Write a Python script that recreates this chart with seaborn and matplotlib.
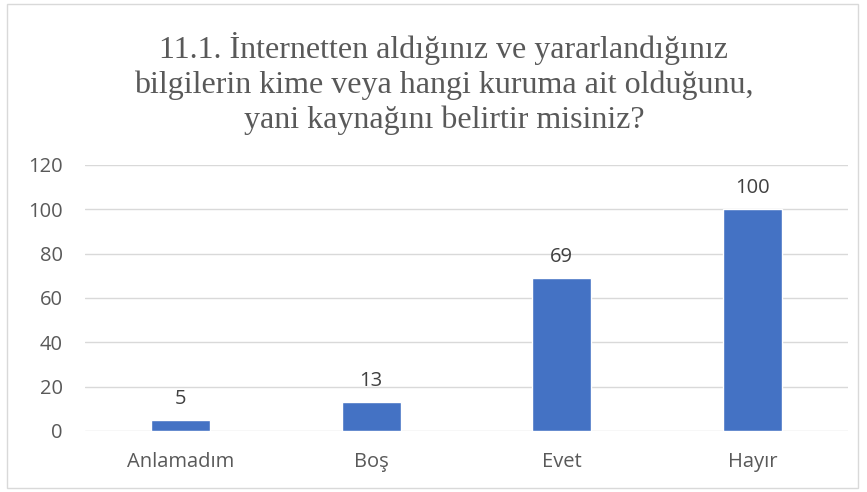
import matplotlib
matplotlib.use("Agg")
import matplotlib.pyplot as plt
import pandas as pd
import seaborn as sns

categories = ["Anlamadım", "Boş", "Evet", "Hayır"]
values = [5, 13, 69, 100]
title = ("11.1. İnternetten aldığınız ve yararlandığınız\n"
         "bilgilerin kime veya hangi kuruma ait olduğunu,\n"
         "yani kaynağını belirtir misiniz?")

df = pd.DataFrame({"cat": categories, "val": values})

sns.set_style("white")
plt.rcParams["font.family"] = ["Open Sans", "DejaVu Sans"]

fig = plt.figure(figsize=(8.67, 4.92), dpi=100)
ax = fig.add_axes([0.098, 0.124, 0.88, 0.541])

sns.barplot(data=df, x="cat", y="val", color="#4472C4", width=0.31,
            saturation=1, ax=ax)

ax.set_ylim(0, 120)
ax.set_yticks(range(0, 121, 20))
ax.yaxis.grid(True, color="#D9D9D9", linewidth=1)
ax.set_axisbelow(True)
for s in ax.spines.values():
    s.set_visible(False)
ax.set_xlabel("")
ax.set_ylabel("")
ax.tick_params(axis="both", length=0, labelsize=14.5, colors="#595959")
ax.tick_params(axis="x", pad=15)
ax.tick_params(axis="y", pad=16)

for i, v in enumerate(values):
    ax.annotate(str(v), (i, v), xytext=(0, 8), textcoords="offset points",
                ha="center", va="bottom", fontsize=14.5, color="#404040")

fig.text(0.512, 0.83, title, ha="center", va="center", fontsize=23,
         family=["Liberation Serif", "DejaVu Serif"], color="#595959",
         linespacing=1.26)

fig.patches.append(plt.Rectangle((0.008, 0.008), 0.982, 0.984, fill=False,
                                 edgecolor="#D9D9D9", linewidth=1,
                                 transform=fig.transFigure, figure=fig))

fig.savefig("out.png", dpi=100)
